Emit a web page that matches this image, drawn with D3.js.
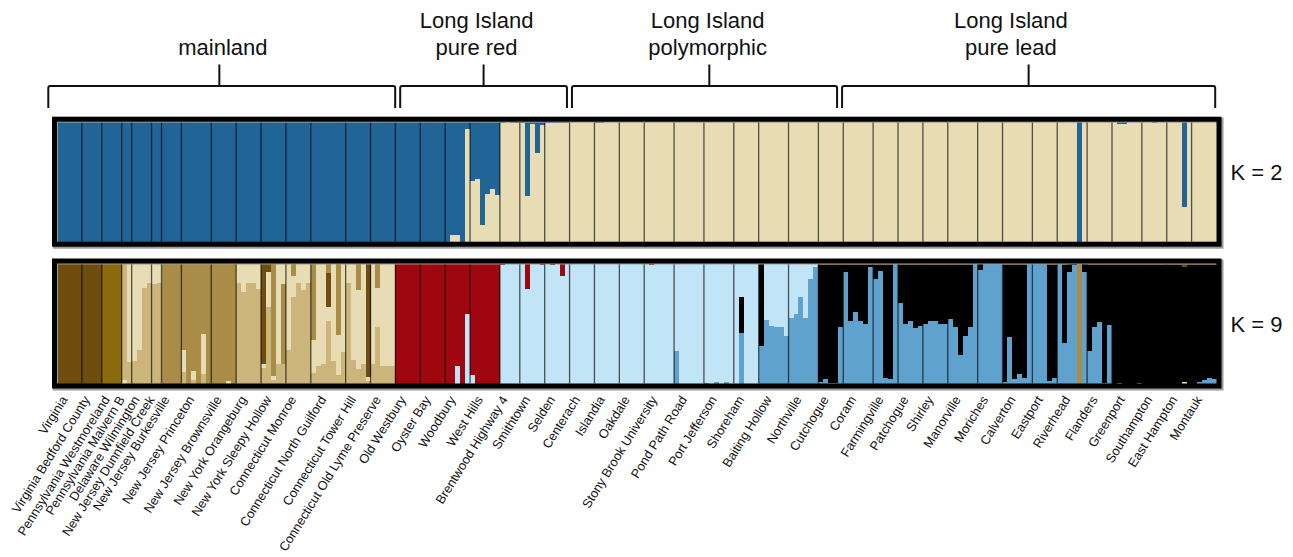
<!DOCTYPE html>
<html><head><meta charset="utf-8">
<script src="https://cdn.jsdelivr.net/npm/d3@7"></script>
<style>
body{margin:0;background:#fff;}
svg{display:block;font-family:"Liberation Sans",Arial,Helvetica,sans-serif;}
</style>
</head><body>
<svg id="chart" width="1293" height="557"></svg>
<script>
// ---------------- DATA ----------------
const populations = ["Virginia","Virginia Bedford County","Pennsylvania Westmoreland","Pennsylvania Malvern B","Delaware Wilmington","New Jersey Dunnfield Creek","New Jersey Burkesville","New Jersey Princeton","New Jersey Brownsville","New York Orangeburg","New York Sleepy Hollow","Connecticut Monroe","Connecticut North Guilford","Connecticut Tower Hill","Connecticut Old Lyme Preserve",
"Old Westbury","Oyster Bay","Woodbury","West Hills","Brentwood Highway 4","Smithtown","Selden",
"Centerach","Islandia","Oakdale","Stony Brook University","Pond Path Road","Port Jefferson","Shoreham","Baiting Hollow","Northville","Cutchogue",
"Coram","Farmingville","Patchogue","Shirley","Manorville","Moriches","Calverton","Eastport","Riverhead","Flanders","Greenport","Southampton","East Hampton","Montauk"];

const groupNames = [["mainland"],["Long Island","pure red"],["Long Island","polymorphic"],["Long Island","pure lead"]];
const groupPopCounts = [15,7,10,14];
const kLabels = ["K = 2","K = 9"];

// K = 2 : membership in the blue cluster per individual (rest = cream cluster)
const k2Blue = [
 [1,1,1,1,1],[1,1,1,1],[1,1,1,1],[1,1],[1,1,1,1],[1,1],[1,1,1,1],[1,1,1,1,1,1],[1,1,1,1,1],[1,1,1,1,1],[1,1,1,1,1],[1,1,1,1,1],[1,1,1,1,1,1,1],[1,1,1,1,1],[1,1,1,1,1],
 [1,1,1,1,1],[1,1,1,1,1],[1,.94,.94,1,.06],[.49,.48,.86,.60,.56,.61],[.01,0,.01,.01],[.01,.62,.02,.26,.025],[.01,.01,.01,.01,.01],
 [0,0,0,0,0],[.01,.01,0,0,0],[0,0,0,0,0],[0,0,0,0,0,0],[0,0,0,0,0,0],[0,0,0,0,0,0],[0,0,0,0,0],[0,0,0,0,0,0],[0,0,0,0,0,0],[0,0,0,0,0],
 [0,0,0,0,0,0],[0,0,0,0,0],[0,0,0,0,0],[0,0,0,0,0],[0,0,0,0,0,0],[0,0,0,0,0],[0,0,0,0,0,0],[0,0,0,0,0],[0,0,0,0,1,0],[0,0,0,0,0],[0,.015,.015,0,0,0],[0,0,.01,0,0],[0,0,0,.71,0],[0,0,0,0,0]
];
const k2Keys = ["blue","cream"];
const k2Colors = ["#216496","#e8dcb4"];

// K = 9 : cluster memberships per individual, listed bottom -> top ("K" without a number = remainder)
const k9Keys = ["A","B","C","D","E","F","G","H","K"];
const k9Colors = ["#6f4d0e","#8b6b0c","#a98c47","#cbb57b","#e8dcb4","#a0060f","#c2e4f7","#5fa2cd","#000000"];
const k9Mix = [
 ["A1","A1","A1","A1","A1"],
 ["A1","A1","A1","A1"],
 ["B1","B1","B1","B1"],
 ["E.03 D.97","D.18 E.82"],
 ["D.19 E.81","D.28 E.72","D.80 E.20","D.84 E.16"],
 ["D.83 E.17","D.84 E.16"],
 ["C1","C1","C1","C1"],
 ["D.10 E.18 C.72","C1","D.03 E.075 C.895","C1","D.08 E.33 C.59","C1"],
 ["C1","C1","C1","E.02 C.98","C1"],
 ["D.84 E.16","D.76 E.24","D.84 E.16","D.84 E.16","D.79 E.21"],
 ["D.13 E.03 A.84","D.64 E.29 A.07","D.03 E.03 C.94","D.16 E.84","D.16 C.67 E.17"],
 ["D.28 E.72","D.72 E.18 C.10","D.84 E.16","D.78 E.22","D.84 E.16"],
 ["D.09 E.27 C.64","D.15 E.85","D.16 E.84","D.52 E.12 A.28 C.08","D.19 E.81","D.075 E.33 C.595","D.26 E.74"],
 ["D.84 E.16","D.20 E.80","D.12 E.66 C.22","D.16 E.84","D.025 E.03 A.945"],
 ["D.16 E.84","D.47 E.33 C.20","D.15 E.85","D.15 E.85","D.15 E.85"],
 ["F1","F1","F1","F1","F1"],
 ["F1","F1","F1","F1","F1"],
 ["F1","F1","G.15 F.85","F1","G.58 F.42"],
 ["G.07 F.93","F1","F1","F1","F1","F1"],
 ["G.99 F.01","G1","G1","G1"],
 ["G1","G.79 F.21","G1","G1","G.99 F.01"],
 ["G1","G.99 F.01","G1","G.90 F.10","G1"],
 ["G1","G1","G1","G1","G1"],
 ["G1","G1","G1","G1","G1"],
 ["G1","G1","G1","G1","G1"],
 ["G1","G.99 F.01","G1","G1","G1","G1"],
 ["H.27 G.73","G1","G1","G1","G1","G1"],
 ["H.005 G.995","G1","H.015 G.985","G1","H.015 G.985","G1"],
 ["G1","H.42 K.30 G.28","G1","G1","G1"],
 ["H.31 K.69","H.53 G.47","H.48 G.52","H.47 G.53","H.47 G.53","H.40 G.60"],
 ["H.55 G.45","H.58 G.42","H.72 G.28","H.55 G.45","H.87 G.13","H.975 G.025"],
 ["H.015 K A.008","H.04 K A.008","H.005 K A.008","H.005 K A.008","H.47 K A.008"],
 ["H.93 K A.008","H.52 K A.008","H.60 K A.008","H.52 K A.008","H.50 K A.008","H.975 K A.008"],
 ["H.87 K A.008","H.94 K A.008","H.05 K A.008","H.04 K A.008","H1"],
 ["H.67 K A.008","H.50 K A.008","H.52 K A.008","H.46 K A.008","H.48 K A.008"],
 ["H.50 K A.008","H.52 K A.008","H.52 K A.008","H.50 K A.008","H.50 K A.008"],
 ["H.54 K A.008","H.47 K A.008","H.24 K A.008","H.40 K A.008","H.47 K A.008","H1"],
 ["H.95 K.05","H1","H1","H1","H1"],
 ["H.015 K A.008","H.39 K A.008","H.04 K A.008","H.08 K A.008","H.05 K A.008","H1"],
 ["H1","H1","H1","H.02 K A.008","H.05 K A.008"],
 ["H1","H.34 K A.008","H.93 K.07","H.99 K.01","C1","H.93 K.07"],
 ["H.27 K A.008","H.47 K A.008","H.51 K A.008","H.005 K A.008","H.49 K A.008"],
 ["K A.008","H.005 K A.008","K A.008","K A.008","K A.008","H.005 K A.008"],
 ["K A.008","K A.008","K A.008","K A.008","K A.008"],
 ["K A.008","K A.008","K A.008","E.015 K A.03","K A.008"],
 ["K A.008","H.015 K A.008","H.03 K A.008","H.05 K A.008","H.04 K A.008"]
];

// ---------------- LAYOUT ----------------
const svg = d3.select("#chart");
const popSizes = k2Blue.map(a => a.length);
const cum = [0]; popSizes.forEach(n => cum.push(cum[cum.length-1] + n));
const N = cum[cum.length-1];

const x = d3.scaleLinear().domain([0, N]).range([57, 1216.5]);
const y2 = d3.scaleLinear().domain([0, 1]).range([241.7, 121.7]);
const y9 = d3.scaleLinear().domain([0, 1]).range([383.5, 263.5]);
const c2 = d3.scaleOrdinal().domain(k2Keys).range(k2Colors);
const c9 = d3.scaleOrdinal().domain(k9Keys).range(k9Colors);

function parseMix(s){
  const parts = s.split(" ").map(p => ({k: p[0], v: p.length > 1 ? +p.slice(1) : null}));
  const known = d3.sum(parts.filter(p => p.v !== null), p => p.v);
  parts.forEach(p => { if (p.v === null) p.v = Math.max(0, 1 - known); });
  const tot = d3.sum(parts, p => p.v);
  let acc = 0;
  return parts.map(p => { const v0 = acc / tot; acc += p.v; return {k: p.k, y0: v0, y1: acc / tot}; });
}

// Individuals
const inds = [];
populations.forEach((p, pi) => {
  for (let i = 0; i < popSizes[pi]; i++) {
    inds.push({pop: pi, idx: cum[pi] + i, blue: k2Blue[pi][i], mix: parseMix(k9Mix[pi][i])});
  }
});

// ---- K=2 panel ----
const g2 = svg.append("g").attr("shape-rendering", "crispEdges");
inds.forEach(d => {
  const x0 = x(d.idx), w = x(d.idx + 1) - x(d.idx) + 0.6;
  const segs = [{k: "cream", y0: 0, y1: 1 - d.blue}, {k: "blue", y0: 1 - d.blue, y1: 1}];
  segs.forEach(s => {
    if (s.y1 - s.y0 <= 0) return;
    g2.append("rect").attr("x", x0).attr("width", w)
      .attr("y", y2(s.y1)).attr("height", Math.max(1, y2(s.y0) - y2(s.y1)))
      .attr("fill", c2(s.k));
  });
});

// ---- K=9 panel ----
const g9 = svg.append("g").attr("shape-rendering", "crispEdges");
inds.forEach(d => {
  const x0 = x(d.idx), w = x(d.idx + 1) - x(d.idx) + 0.6;
  d.mix.forEach(s => {
    if (s.y1 - s.y0 <= 0) return;
    g9.append("rect").attr("x", x0).attr("width", w)
      .attr("y", y9(s.y1)).attr("height", Math.max(1, y9(s.y0) - y9(s.y1)))
      .attr("fill", c9(s.k));
  });
});

// Population separators
[y2, y9].forEach(yy => {
  const g = svg.append("g");
  cum.slice(1, -1).forEach(c => {
    g.append("line").attr("x1", x(c)).attr("x2", x(c))
      .attr("y1", yy(1)).attr("y2", yy(0))
      .attr("stroke", "#000").attr("stroke-opacity", 0.65).attr("stroke-width", 1.3);
  });
});

// Frames
[y2, y9].forEach(yy => {
  const top = yy(1) - 2.5, bot = yy(0) + 2.5, l = x(0) - 2.5, r = x(N) + 2.5;
  svg.append("rect").attr("x", l + 1).attr("y", top + 1).attr("width", r - l + 1).attr("height", bot - top + 1)
    .attr("fill", "none").attr("stroke", "#9a9a9a").attr("stroke-width", 5);
  svg.append("rect").attr("x", l).attr("y", top).attr("width", r - l).attr("height", bot - top)
    .attr("fill", "none").attr("stroke", "#000").attr("stroke-width", 5);
});

// K labels
svg.append("text").attr("x", 1230.5).attr("y", 179.5).attr("font-size", 22).attr("fill", "#111").text(kLabels[0]);
svg.append("text").attr("x", 1230.5).attr("y", 331.5).attr("font-size", 22).attr("fill", "#111").text(kLabels[1]);

// Group brackets
const bracketTrim = [[-8.7, -0.2], [4.8, -2.6], [2.4, -6.2], [-1.2, -1.3]];
const tickShift = [-2.4, 0, 4.8, 0];
const labelShift = [3.5, -7, -1.7, -17.7];
let popStart = 0;
groupNames.forEach((lines, gi) => {
  const popEnd = popStart + groupPopCounts[gi];
  const xa = x(cum[popStart]) + bracketTrim[gi][0];
  const xb = x(cum[popEnd]) + bracketTrim[gi][1];
  const xm = (xa + xb) / 2 + tickShift[gi];
  const r = 2;
  svg.append("path")
    .attr("d", `M${xa},108 V${86 + r} Q${xa},86 ${xa + r},86 H${xb - r} Q${xb},86 ${xb},${86 + r} V108`)
    .attr("fill", "none").attr("stroke", "#111").attr("stroke-width", 2);
  svg.append("line").attr("x1", xm).attr("x2", xm).attr("y1", 86).attr("y2", 64.5)
    .attr("stroke", "#111").attr("stroke-width", 2);
  const tx = xm + labelShift[gi];
  const baselines = lines.length === 2 ? [27.5, 55] : [55];
  lines.forEach((t, li) => {
    svg.append("text").attr("x", tx).attr("y", baselines[li]).attr("text-anchor", "middle")
      .attr("font-size", 22).attr("fill", "#111").text(t);
  });
  popStart = popEnd;
});

// Population labels
populations.forEach((p, pi) => {
  const cx = (x(cum[pi]) + x(cum[pi + 1])) / 2 - 1.5;
  svg.append("text")
    .attr("transform", `translate(${cx},399.5) rotate(-58)`)
    .attr("text-anchor", "end").attr("font-size", 12.8).attr("fill", "#111").text(p);
});
</script>
</body></html>
